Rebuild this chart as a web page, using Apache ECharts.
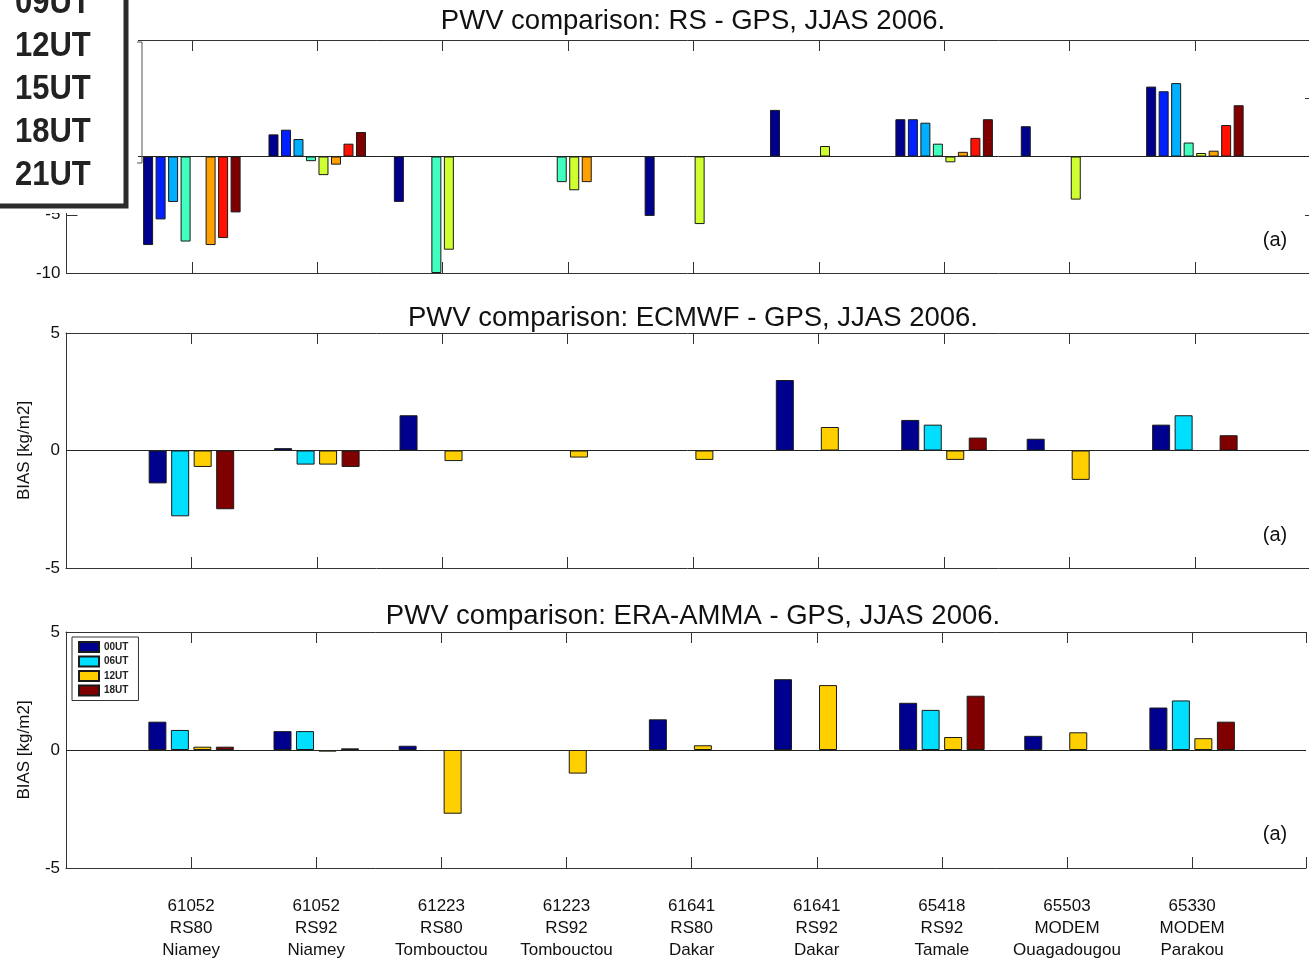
<!DOCTYPE html>
<html>
<head>
<meta charset="utf-8">
<title>PWV comparison</title>
<script src="https://cdn.jsdelivr.net/npm/echarts@6/dist/echarts.min.js"></script>
<style>
  html, body { margin: 0; padding: 0; background: #fff; }
  #chart { width: 1309px; height: 962px; }
</style>
</head>
<body>
<div id="chart"></div>
<script>
// Stations (id / sonde type / site), one group of bars per station
const categories = [
  '61052\nRS80\nNiamey', '61052\nRS92\nNiamey',
  '61223\nRS80\nTombouctou', '61223\nRS92\nTombouctou',
  '61641\nRS80\nDakar', '61641\nRS92\nDakar',
  '65418\nRS92\nTamale', '65503\nMODEM\nOuagadougou', '65330\nMODEM\nParakou'
];

// Panel 1: RS - GPS bias (kg/m2) by launch hour
const rsHours = ['00UT', '03UT', '06UT', '09UT', '12UT', '15UT', '18UT', '21UT'];
const rs00 = [-7.6, 1.9, -3.9, null, -5.1, 4.0, 3.2, 2.6, 6.0];
const rs03 = [-5.4, 2.3, null, null, null, null, 3.2, null, 5.6];
const rs06 = [-3.9, 1.5, null, null, null, null, 2.9, null, 6.3];
const rs09 = [-7.3, -0.4, -10.0, -2.2, null, null, 1.1, null, 1.2];
const rs12 = [null, -1.6, -8.0, -2.9, -5.8, 0.9, -0.5, -3.7, 0.3];
const rs15 = [-7.6, -0.7, null, -2.2, null, null, 0.4, null, 0.5];
const rs18 = [-7.0, 1.1, null, null, null, null, 1.6, null, 2.7];
const rs21 = [-4.8, 2.1, null, null, null, null, 3.2, null, 4.4];
const rsColors = ['#00008F', '#0020FF', '#00AFFF', '#40FFBF', '#CFFF30', '#FF9F00', '#FF1000', '#800000'];

// Panels 2 and 3: reanalysis - GPS bias (kg/m2)
const anHours = ['00UT', '06UT', '12UT', '18UT'];
const ec00 = [-1.4, 0.1, 1.5, null, null, 3.0, 1.3, 0.5, 1.1];
const ec06 = [-2.8, -0.6, null, null, null, null, 1.1, null, 1.5];
const ec12 = [-0.7, -0.6, -0.45, -0.3, -0.4, 1.0, -0.4, -1.25, null];
const ec18 = [-2.5, -0.7, null, null, null, null, 0.55, null, 0.65];
const era00 = [1.2, 0.8, 0.18, null, 1.3, 3.0, 2.0, 0.6, 1.8];
const era06 = [0.85, 0.8, null, null, null, null, 1.7, null, 2.1];
const era12 = [0.14, -0.07, -2.7, -1.0, 0.2, 2.75, 0.55, 0.75, 0.5];
const era18 = [0.14, 0.07, null, null, null, null, 2.3, null, 1.2];
const anColors = ['#00008F', '#00DFFF', '#FFCF00', '#800000'];

const panelTitles = [
  'PWV comparison: RS - GPS, JJAS 2006.',
  'PWV comparison: ECMWF - GPS, JJAS 2006.',
  'PWV comparison: ERA-AMMA - GPS, JJAS 2006.'
];
const overlayHours = ['09UT', '12UT', '15UT', '18UT', '21UT'];

const FONT = 'Liberation Sans, Arial, Helvetica, sans-serif';
const INK = '#111';
const FRAME = '#333';

// Station k sits at x = k (1..9); the axis starts at 0 and runs off the right edge
const X_MAX = 9.91;
const toPoints = arr => arr.map((v, k) => [k + 1, v]);
const stationLabel = v => (Number.isInteger(v) && v >= 1 && v <= categories.length) ? categories[v - 1] : '';

const grids = [
  { left: 66, right: 0, top: 40, height: 233 },
  { left: 66, right: 0, top: 333, height: 235 },
  { left: 66, right: 0, top: 632, height: 236 }
];

const yRanges = [[-10, 10, 5], [-5, 5, 5], [-5, 5, 5]];

const xAxes = [];
const yAxes = [];
grids.forEach((g, i) => {
  ['bottom', 'top'].forEach(pos => {
    xAxes.push({
      type: 'value', gridIndex: i, position: pos, min: 0, max: X_MAX, interval: 1,
      axisLine: { show: true, onZero: false, lineStyle: { color: FRAME, width: 1 } },
      axisTick: { show: true, inside: true, length: 11, lineStyle: { color: FRAME } },
      axisLabel: { show: pos === 'bottom' && i === 2, margin: 27, formatter: stationLabel,
                   showMinLabel: true, showMaxLabel: true,
                   fontFamily: FONT, fontSize: 17, lineHeight: 22, color: INK },
      splitLine: { show: false }
    });
  });
  ['left', 'right'].forEach(pos => {
    const r = yRanges[i];
    yAxes.push({
      type: 'value', gridIndex: i, position: pos, min: r[0], max: r[1], interval: r[2],
      name: pos === 'left' ? 'BIAS [kg/m2]' : '', nameLocation: 'middle', nameGap: 33,
      nameTextStyle: { fontFamily: FONT, fontSize: 17, color: INK },
      axisLine: { show: pos === 'left', onZero: false, lineStyle: { color: FRAME, width: 1 } },
      axisTick: { show: true, inside: true, length: pos === 'left' ? 11 : 4, lineStyle: { color: FRAME } },
      axisLabel: { show: pos === 'left', margin: 6, fontFamily: FONT, fontSize: 17, color: INK },
      splitLine: { show: false }
    });
  });
});

const zeroLine = {
  silent: true, symbol: 'none', animation: false, label: { show: false },
  lineStyle: { color: '#222', width: 1, type: 'solid' },
  data: [{ yAxis: 0 }]
};

function barSeries(name, data, color, gi, width) {
  return {
    type: 'bar', name: name, data: toPoints(data),
    xAxisIndex: gi * 2, yAxisIndex: gi * 2,
    barWidth: width, barGap: '25%',
    itemStyle: { color: color, borderColor: '#1a1a1a', borderWidth: 1 },
    emphasis: { disabled: true }
  };
}

const series = [];
// ERA-AMMA first so the legend takes its swatches from this panel
[era00, era06, era12, era18].forEach((d, k) => series.push(barSeries(anHours[k], d, anColors[k], 2, 18)));
[ec00, ec06, ec12, ec18].forEach((d, k) => series.push(barSeries(anHours[k], d, anColors[k], 1, 18)));
[rs00, rs03, rs06, rs09, rs12, rs15, rs18, rs21].forEach((d, k) => series.push(barSeries(rsHours[k], d, rsColors[k], 0, 10)));
series[0].markLine = zeroLine;
series[4].markLine = zeroLine;
series[8].markLine = zeroLine;

// Titles and panel tags
const graphics = [];
[21, 318, 616].forEach((y, i) => {
  graphics.push({ type: 'text', z: 50, x: 693, y: y,
    style: { text: panelTitles[i], font: '27.5px ' + FONT, fill: INK, textAlign: 'center', textVerticalAlign: 'middle' } });
});
[240, 535, 834].forEach(y => {
  graphics.push({ type: 'text', z: 50, x: 1275, y: y,
    style: { text: '(a)', font: '20px ' + FONT, fill: INK, textAlign: 'center', textVerticalAlign: 'middle' } });
});

// Pasted hour key sitting over the upper-left corner of the first panel
graphics.push({ type: 'rect', z: 100, shape: { x: 0, y: 0, width: 138, height: 213 }, style: { fill: '#fff' } });
graphics.push({ type: 'polyline', z: 101, shape: { points: [[137, 42], [142, 42], [142, 163], [137, 163]] },
  style: { stroke: '#555', lineWidth: 1, fill: null } });
graphics.push({ type: 'rect', z: 102, shape: { x: -8, y: -8, width: 134, height: 214 },
  style: { fill: '#fff', stroke: '#2b2b2b', lineWidth: 5 } });
[3, 46, 89, 132, 175].forEach((y, k) => {
  graphics.push({ type: 'text', z: 103, x: 15, y: y, scaleY: 1.15,
    style: { text: overlayHours[k], font: 'bold 31px ' + FONT, fill: '#222',
             textAlign: 'left', textVerticalAlign: 'middle' } });
});

const chart = echarts.init(document.getElementById('chart'), null, { renderer: 'canvas' });
chart.setOption({
  animation: false,
  backgroundColor: '#fff',
  grid: grids,
  xAxis: xAxes,
  yAxis: yAxes,
  legend: {
    left: 72, top: 637, orient: 'vertical', data: anHours, icon: 'rect',
    itemWidth: 20, itemHeight: 10, itemGap: 2.5, padding: [4, 10, 4, 6],
    borderColor: '#333', borderWidth: 1, backgroundColor: '#fff', selectedMode: false,
    textStyle: { fontFamily: FONT, fontSize: 10, fontWeight: 'bold', color: '#222' }
  },
  graphic: graphics,
  series: series
});
</script>
</body>
</html>
